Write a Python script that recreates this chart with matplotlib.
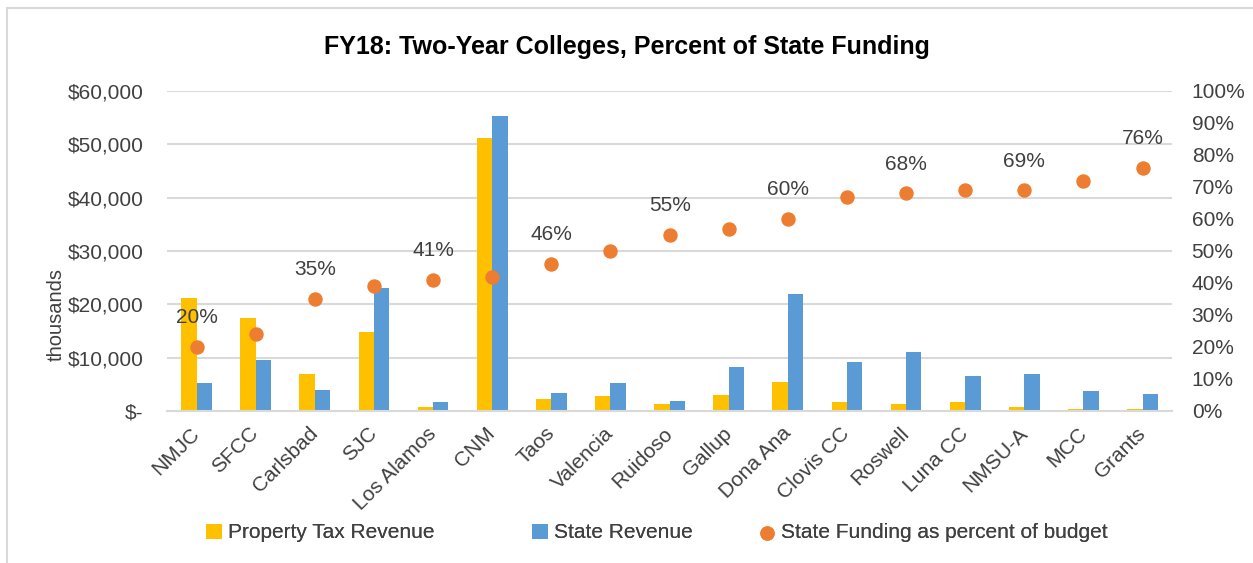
import numpy as np
import matplotlib.pyplot as plt
from matplotlib.ticker import FuncFormatter, MultipleLocator
from matplotlib.patches import Rectangle

plt.rcParams['font.family'] = ['Liberation Sans', 'DejaVu Sans']

# datos (miles de dólares y porcentaje)
colleges = ['NMJC', 'SFCC', 'Carlsbad', 'SJC', 'Los Alamos', 'CNM', 'Taos', 'Valencia',
            'Ruidoso', 'Gallup', 'Dona Ana', 'Clovis CC', 'Roswell', 'Luna CC', 'NMSU-A',
            'MCC', 'Grants']
property_tax = [21200, 17400, 6900, 14800, 800, 51100, 2250, 2750,
                1300, 3000, 5400, 1750, 1300, 1750, 750, 350, 350]
state_rev = [5200, 9500, 3900, 23000, 1600, 55400, 3300, 5200,
             1800, 8300, 22000, 9250, 11100, 6600, 6900, 3700, 3250]
pct_state = [20, 24, 35, 39, 41, 42, 46, 50, 55, 57, 60, 67, 68, 69, 69, 72, 76]

yellow = '#FFC000'
blue = '#5B9BD5'
orange = '#ED7D31'
txt = '#404040'

fig = plt.figure(figsize=(12.53, 5.63), dpi=100)
ax = fig.add_axes([0.1333, 0.27, 0.8022, 0.5684])
ax2 = ax.twinx()

x = np.arange(len(colleges))
w = 0.26
ax.bar(x - w / 2, property_tax, w, color=yellow, label='Property Tax Revenue', zorder=2)
ax.bar(x + w / 2, state_rev, w, color=blue, label='State Revenue', zorder=2)

ax.set_ylim(0, 60000)
ax.set_xlim(-0.5, len(colleges) - 0.5)
ax.yaxis.set_major_locator(MultipleLocator(10000))
ax.yaxis.set_major_formatter(FuncFormatter(lambda v, p: '$-' if v == 0 else f'${v:,.0f}'))
ax.grid(axis='y', color='#D9D9D9', lw=1.5, zorder=0)
ax.set_axisbelow(True)
ax.set_ylabel('thousands', fontsize=14.5, color=txt)
ax.yaxis.set_label_coords(-0.101, 0.30)

ax.set_xticks(x)
ax.set_xticklabels(colleges, rotation=45, ha='right', va='center', rotation_mode='anchor')

pct = np.array(pct_state) / 100
ax2.scatter(x, pct, s=88, color=orange, zorder=3, label='State Funding as percent of budget')
for i in x[::2]:
    ax2.annotate(f'{pct_state[i]}%', (x[i], pct[i]), xytext=(0, 21), textcoords='offset points',
                 ha='center', va='center', fontsize=15, color=txt)
ax2.set_ylim(0, 1)
ax2.yaxis.set_major_locator(MultipleLocator(0.1))
ax2.yaxis.set_major_formatter(FuncFormatter(lambda v, p: f'{v:.0%}'))

for a in (ax, ax2):
    for s in a.spines.values():
        s.set_visible(False)
    a.tick_params(length=0, labelsize=15, labelcolor=txt)
ax.spines['bottom'].set_visible(True)
ax.spines['bottom'].set_color('#D9D9D9')
ax.spines['bottom'].set_linewidth(1.5)
ax.tick_params(axis='y', pad=17)
ax.tick_params(axis='x', pad=14)
ax2.tick_params(axis='y', pad=14)

fig.text(0.5, 1 - 47 / 563, 'FY18: Two-Year Colleges, Percent of State Funding',
         ha='center', va='center', fontsize=18, fontweight='bold', color='#000000')

# leyenda: una entrada por serie, colocadas como en el original
handles = ax.get_legend_handles_labels()[0] + ax2.get_legend_handles_labels()[0]
labels = ax.get_legend_handles_labels()[1] + ax2.get_legend_handles_labels()[1]
for h, l, xl in zip(handles, labels, [206, 532, 759]):
    lg = fig.legend([h], [l], loc='center left', bbox_to_anchor=(xl / 1253, 1 - 533 / 563),
                    frameon=False, fontsize=15, handlelength=0.75, handletextpad=0.3,
                    borderpad=0, borderaxespad=0, labelcolor=txt)
    fig.add_artist(lg)

fig.patches.append(Rectangle((7 / 1253, -0.1), 1.2, 1 - 8 / 563 + 0.1, transform=fig.transFigure,
                             fill=False, edgecolor='#D9D9D9', lw=1.5))

fig.savefig('out.png', dpi=100)
